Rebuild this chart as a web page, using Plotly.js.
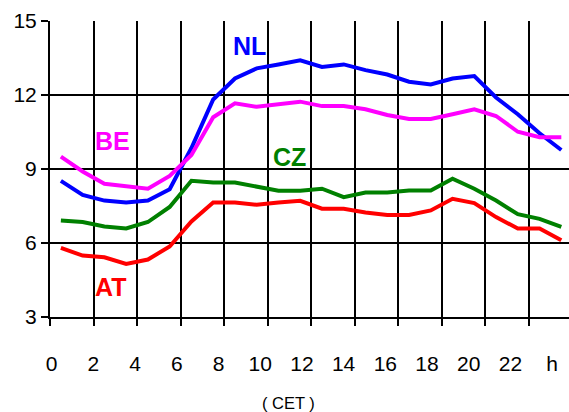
<!DOCTYPE html>
<html>
<head>
<meta charset="utf-8">
<script src="https://cdn.plot.ly/plotly-3.0.1.min.js"></script>
<style>
  html, body { margin: 0; padding: 0; background: #fff; overflow: hidden; }
  #chart { width: 569px; height: 412px; }
</style>
</head>
<body>
<div id="chart"></div>
<script>
// Hour of day (CET), each value belongs to the hour ending at this time
const hours = [1, 2, 3, 4, 5, 6, 7, 8, 9, 10, 11, 12, 13, 14, 15, 16, 17, 18, 19, 20, 21, 22, 23, 24];

const NL = [8.52, 7.95, 7.72, 7.64, 7.72, 8.18, 9.85, 11.82, 12.67, 13.08, 13.24, 13.41,
            13.14, 13.24, 13.01, 12.83, 12.54, 12.43, 12.67, 12.77, 11.90, 11.22, 10.45, 9.77];
const BE = [9.50, 8.90, 8.40, 8.29, 8.20, 8.72, 9.57, 11.10, 11.66, 11.52, 11.63, 11.73,
            11.55, 11.55, 11.42, 11.19, 11.03, 11.03, 11.22, 11.42, 11.15, 10.51, 10.29, 10.29];
const CZ = [6.91, 6.85, 6.67, 6.59, 6.85, 7.46, 8.52, 8.45, 8.45, 8.29, 8.12, 8.12,
            8.20, 7.86, 8.05, 8.05, 8.13, 8.13, 8.61, 8.20, 7.72, 7.17, 6.98, 6.65];
const AT = [5.80, 5.49, 5.42, 5.15, 5.33, 5.86, 6.87, 7.64, 7.64, 7.55, 7.64, 7.71,
            7.39, 7.39, 7.24, 7.14, 7.14, 7.32, 7.79, 7.62, 7.05, 6.59, 6.59, 6.11];

const tickVals = [0, 2, 4, 6, 8, 10, 12, 14, 16, 18, 20, 22, 24];
const tickText = ["0", "2", "4", "6", "8", "10", "12", "14", "16", "18", "20", "22", "h"];

const seriesNames = ["NL", "BE", "CZ", "AT"];
const seriesData = [NL, BE, CZ, AT];
const seriesColors = ["#0000ff", "#ff00ff", "#008000", "#ff0000"];
// label anchor positions (hour, value)
const labelX = [9.15, 2.87, 11.03, 2.78];
const labelY = [14.0, 10.15, 9.47, 4.23];

const FONT = '"Liberation Sans", Arial, sans-serif';
const xMid = hours.map(h => h - 0.5);

const traces = seriesData.map((d, i) => ({
  x: xMid, y: d, type: 'scatter', mode: 'lines', name: seriesNames[i],
  line: { color: seriesColors[i], width: 4 }, hoverinfo: 'skip'
}));
// invisible trace to activate the labelling axis
traces.push({ x: [1], y: [3], xaxis: 'x2', mode: 'markers', marker: { opacity: 0 }, hoverinfo: 'skip', showlegend: false });

const annotations = seriesNames.map((n, i) => ({
  x: labelX[i], y: labelY[i], xref: 'x', yref: 'y', text: '<b>' + n + '</b>', showarrow: false,
  font: { family: FONT, size: 25, color: seriesColors[i] }, xanchor: 'center', yanchor: 'middle'
}));
annotations.push({
  x: 0.4605, y: -0.2914, xref: 'paper', yref: 'paper', text: '( CET )', showarrow: false,
  font: { family: FONT, size: 16.5, color: '#000' }, xanchor: 'center', yanchor: 'middle'
});

const layout = {
  width: 569, height: 412,
  margin: { l: 50, r: 0, t: 21, b: 94.5 },
  paper_bgcolor: '#fff', plot_bgcolor: '#fff',
  showlegend: false,
  font: { family: FONT, size: 21, color: '#000' },
  xaxis: {
    type: 'linear', range: [0, 23.853], tick0: 0, dtick: 2,
    showgrid: true, gridcolor: '#000', gridwidth: 2,
    ticks: 'outside', ticklen: 7, tickwidth: 2, tickcolor: '#000',
    showticklabels: false, zeroline: false,
    showline: true, linecolor: '#000', linewidth: 2, mirror: false
  },
  xaxis2: {
    overlaying: 'x', anchor: 'y', side: 'bottom', type: 'linear',
    range: [-0.0815, 24.81], tickvals: tickVals, ticktext: tickText,
    showgrid: false, zeroline: false, showline: false, ticks: '',
    ticklabelstandoff: 32,
    tickfont: { family: FONT, size: 21, color: '#000' }
  },
  yaxis: {
    range: [3, 15], tick0: 3, dtick: 3,
    showgrid: true, gridcolor: '#000', gridwidth: 2,
    ticks: 'outside', ticklen: 7, tickwidth: 2, tickcolor: '#000',
    zeroline: false, showline: true, linecolor: '#000', linewidth: 2,
    tickfont: { family: FONT, size: 21, color: '#000' }
  },
  annotations: annotations
};

Plotly.newPlot('chart', traces, layout, { staticPlot: true, displayModeBar: false });
</script>
</body>
</html>
